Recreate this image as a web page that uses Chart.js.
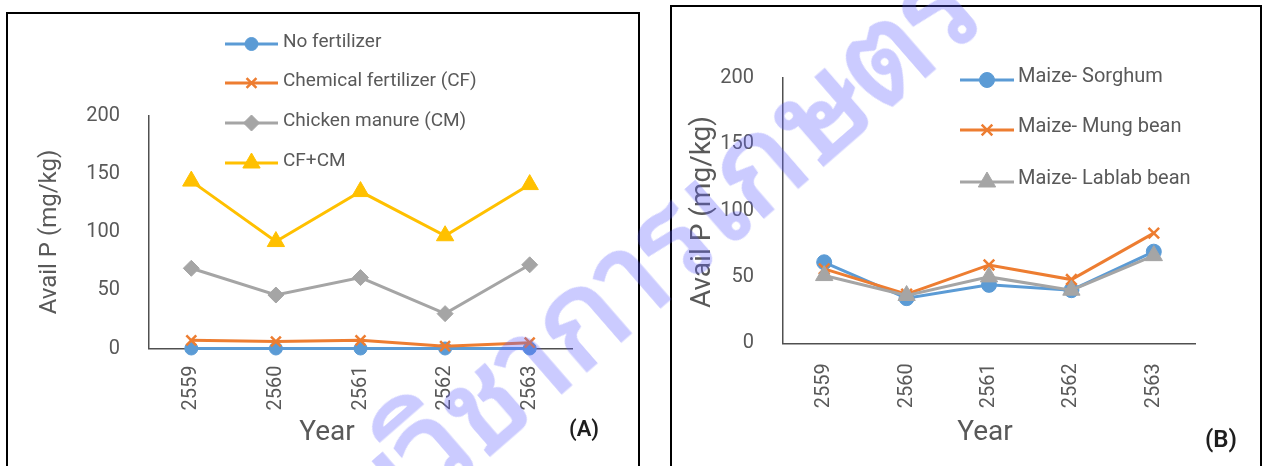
<!DOCTYPE html>
<html>
<head>
<meta charset="utf-8">
<title>Avail P by year</title>
<script src="https://cdn.jsdelivr.net/npm/chart.js@4.4.0/dist/chart.umd.min.js"></script>
<style>
  html, body { margin: 0; padding: 0; background: #fff; }
  #page { position: relative; width: 1264px; height: 466px; overflow: hidden; background: #fff; }
  .panel { position: absolute; border: 2px solid #000; border-bottom: none; box-sizing: border-box; }
  #panelA { left: 6px; top: 12px; width: 634px; height: 470px; }
  #panelB { left: 670px; top: 5px; width: 592px; height: 470px; }
  canvas { position: absolute; }
  #mark {
    position: absolute; left: 592px; top: 290px;
    transform: translate(-50%, -50%) rotate(-41deg);
    font-family: "Noto Sans Thai Looped", "Noto Serif Thai", "Loma", "Garuda", "Norasi", "Noto Sans Thai", sans-serif;
    font-size: 128px; font-weight: normal; white-space: nowrap;
    color: rgb(95, 95, 255);
    -webkit-text-stroke: 3px rgb(95, 95, 255);
    opacity: 0.32;
    pointer-events: none;
  }
</style>
</head>
<body>
<div id="page">
  <div class="panel" id="panelA"></div>
  <div class="panel" id="panelB"></div>
  <canvas id="chartA" width="630" height="452" style="left:8px;top:14px;width:630px;height:452px"></canvas>
  <canvas id="chartB" width="588" height="459" style="left:672px;top:7px;width:588px;height:459px"></canvas>
  <div id="mark">กรมวิชาการเกษตร</div>
</div>
<script>
// ---- data ----
const years = ['2559', '2560', '2561', '2562', '2563'];
const valueTicks = [0, 50, 100, 150, 200];

// Panel A: fertilizer treatments
const seriesNamesA = ['No fertilizer', 'Chemical fertilizer (CF)', 'Chicken manure (CM)', 'CF+CM'];
const noFertilizer = [0, 0, 0, 0, 0];
const chemicalFertilizer = [7, 6, 7, 2, 5];
const chickenManure = [69, 46, 61, 30, 72];
const cfPlusCm = [144, 92, 135, 97, 141];

// Panel B: cropping systems
const seriesNamesB = ['Maize- Sorghum', 'Maize- Mung bean', 'Maize- Lablab bean'];
const maizeSorghum = [61, 34, 44, 40, 69];
const maizeMungBean = [56, 37, 59, 48, 83];
const maizeLablabBean = [51, 36, 50, 40, 66];

const axisTitleY = 'Avail P (mg/kg)';
const axisTitleX = 'Year';

// ---- styling ----
const FONT = 'Roboto, "Open Sans", "DejaVu Sans", sans-serif';
const TEXT = '#595959';
const BLUE = '#5B9BD5', ORANGE = '#ED7D31', GREY = '#A5A5A5', GOLD = '#FFC000';

function series(label, data, color, style, radius, i, n) {
  return {
    label, data,
    borderColor: color, backgroundColor: color,
    borderWidth: 3, tension: 0,
    pointStyle: style, pointRadius: radius, pointHoverRadius: radius,
    pointBackgroundColor: color, pointBorderColor: color,
    pointBorderWidth: style === 'crossRot' ? 2.5 : 1,
    clip: false,
    order: n - i
  };
}

function drawMarker(ctx, style, r, x, y, color, bw) {
  ctx.save();
  ctx.fillStyle = color; ctx.strokeStyle = color; ctx.lineWidth = bw;
  if (Chart.helpers && Chart.helpers.drawPoint) {
    Chart.helpers.drawPoint(ctx, { pointStyle: style, radius: r, rotation: 0, borderWidth: bw }, x, y);
  } else {
    ctx.beginPath();
    if (style === 'circle') { ctx.arc(x, y, r, 0, Math.PI * 2); ctx.fill(); }
    else if (style === 'rectRot') { ctx.moveTo(x, y - r); ctx.lineTo(x + r, y); ctx.lineTo(x, y + r); ctx.lineTo(x - r, y); ctx.closePath(); ctx.fill(); }
    else if (style === 'triangle') { ctx.moveTo(x, y - r); ctx.lineTo(x + r * 0.866, y + r / 2); ctx.lineTo(x - r * 0.866, y + r / 2); ctx.closePath(); ctx.fill(); }
    else { const d = r * 0.707; ctx.moveTo(x - d, y - d); ctx.lineTo(x + d, y + d); ctx.moveTo(x + d, y - d); ctx.lineTo(x - d, y + d); ctx.stroke(); }
  }
  ctx.restore();
}

// Legend, axis titles and panel tag, drawn on top of the chart
const decorations = {
  id: 'decorations',
  afterDraw(chart, args, o) {
    const ctx = chart.ctx;
    ctx.save();
    // legend
    chart.data.datasets.forEach((ds, i) => {
      const y = o.legend.rows[i];
      ctx.strokeStyle = ds.borderColor; ctx.lineWidth = ds.borderWidth;
      ctx.beginPath(); ctx.moveTo(o.legend.x1, y); ctx.lineTo(o.legend.x2, y); ctx.stroke();
      drawMarker(ctx, ds.pointStyle, ds.pointRadius, (o.legend.x1 + o.legend.x2) / 2, y, ds.borderColor, ds.pointBorderWidth);
      ctx.fillStyle = TEXT;
      ctx.font = o.legend.font;
      ctx.textAlign = 'left'; ctx.textBaseline = 'middle';
      ctx.fillText(ds.label, o.legend.tx, y + o.legend.dy);
    });
    // y title
    ctx.fillStyle = TEXT;
    ctx.font = o.yTitle.font;
    ctx.textAlign = 'center'; ctx.textBaseline = 'middle';
    ctx.save();
    ctx.translate(o.yTitle.x, o.yTitle.y); ctx.rotate(-Math.PI / 2);
    ctx.fillText(axisTitleY, 0, 0);
    ctx.restore();
    // x title
    ctx.font = o.xTitle.font;
    ctx.fillText(axisTitleX, o.xTitle.x, o.xTitle.y);
    // panel tag
    ctx.fillStyle = '#1e1e1e';
    ctx.font = o.tag.font;
    ctx.fillText(o.tag.text, o.tag.x, o.tag.y);
    ctx.restore();
  }
};

function makeChart(id, datasets, g, deco) {
  return new Chart(document.getElementById(id), {
    type: 'line',
    data: { labels: years, datasets },
    plugins: [decorations],
    options: {
      responsive: false, animation: false, devicePixelRatio: 1,
      events: [],
      layout: { padding: { left: 0, top: g.top, right: g.right, bottom: 0 }, autoPadding: false },
      plugins: { legend: { display: false }, tooltip: { enabled: false }, decorations: deco },
      scales: {
        x: {
          type: 'category', offset: true,
          grid: { display: false, drawTicks: false },
          border: { display: true, color: '#505050', width: 1.5 },
          ticks: { color: TEXT, font: { family: FONT, size: 20 }, minRotation: 90, maxRotation: 90, padding: g.xPad, autoSkip: false },
          afterFit(s) { s.height = g.xHeight; }
        },
        y: {
          min: 0, max: 200,
          grid: { display: false, drawTicks: false },
          border: { display: true, color: '#505050', width: 1.5 },
          ticks: { color: TEXT, font: { family: FONT, size: 20 }, padding: 29 },
          afterBuildTicks(s) { s.ticks = valueTicks.map(v => ({ value: v })); },
          afterFit(s) { s.width = g.left; }
        }
      }
    }
  });
}

// Panel A (canvas origin at page 8,14)
makeChart('chartA', [
  series(seriesNamesA[0], noFertilizer, BLUE, 'circle', 6.5, 0, 4),
  series(seriesNamesA[1], chemicalFertilizer, ORANGE, 'crossRot', 7, 1, 4),
  series(seriesNamesA[2], chickenManure, GREY, 'rectRot', 8, 2, 4),
  series(seriesNamesA[3], cfPlusCm, GOLD, 'triangle', 10, 3, 4)
], { left: 141, right: 66, top: 102, xHeight: 117.5, xPad: 17 }, {
  legend: { x1: 217, x2: 270, tx: 275, dy: -2, rows: [30, 69, 109, 149], font: '19px ' + FONT },
  yTitle: { x: 42, y: 218, font: '24px ' + FONT },
  xTitle: { x: 319, y: 419, font: '28px ' + FONT },
  tag: { text: '(A)', x: 576, y: 416, font: '600 22px ' + FONT }
});

// Panel B (canvas origin at page 672,7)
makeChart('chartB', [
  series(seriesNamesB[0], maizeSorghum, BLUE, 'circle', 7.5, 0, 3),
  series(seriesNamesB[1], maizeMungBean, ORANGE, 'crossRot', 7.5, 1, 3),
  series(seriesNamesB[2], maizeLablabBean, GREY, 'triangle', 10, 2, 3)
], { left: 111, right: 65, top: 70.7, xHeight: 122.7, xPad: 20 }, {
  legend: { x1: 288, x2: 342, tx: 346, dy: -3, rows: [73, 123, 175], font: '20px ' + FONT },
  yTitle: { x: 31, y: 205, font: '28px ' + FONT },
  xTitle: { x: 313, y: 426, font: '28px ' + FONT },
  tag: { text: '(B)', x: 549, y: 434, font: '600 24px ' + FONT }
});
</script>
</body>
</html>
